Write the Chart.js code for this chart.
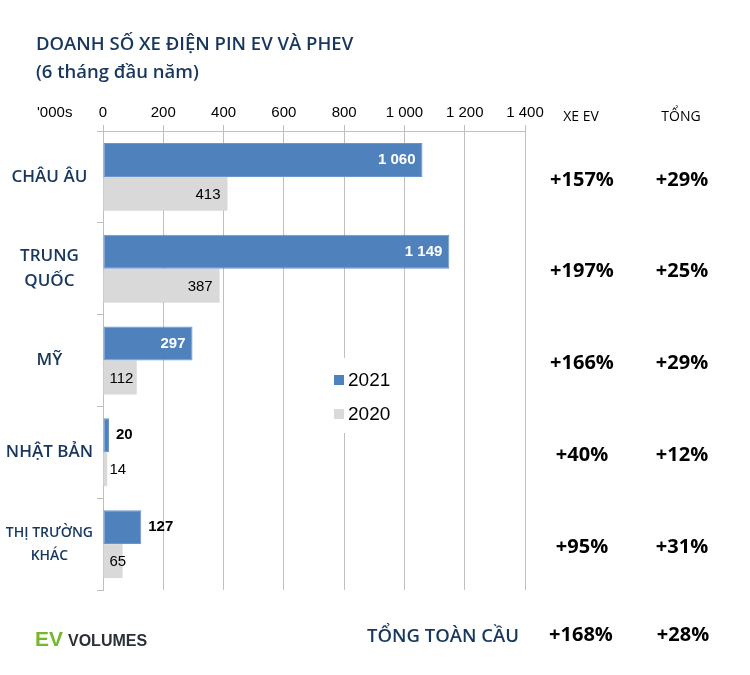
<!DOCTYPE html>
<html>
<head>
<meta charset="utf-8">
<script src="https://cdn.jsdelivr.net/npm/chart.js@4"></script>
<style>
  body { margin: 0; background: #fff; }
  #wrap { width: 750px; height: 675px; }
</style>
</head>
<body>
<div id="wrap"><canvas id="evChart" width="750" height="675"></canvas></div>
<script>
// data
const regions = ['CHÂU ÂU', ['TRUNG', 'QUỐC'], 'MỸ', 'NHẬT BẢN', ['THỊ TRƯỜNG', 'KHÁC']];
const sales2021 = [1060, 1149, 297, 20, 127];
const sales2020 = [413, 387, 112, 14, 65];
const evGrowth = ['+157%', '+197%', '+166%', '+40%', '+95%'];
const totalGrowth = ['+29%', '+25%', '+29%', '+12%', '+31%'];
const globalEv = '+168%';
const globalTotal = '+28%';
const xTicks = [0, 200, 400, 600, 800, 1000, 1200, 1400];

const NAVY = '#17375e';
const BLUE = '#4f81bd';
const GREY = '#d9d9d9';

function fmt(v) {
    return String(v).replace(/\B(?=(\d{3})+(?!\d))/g, ' ');
}

// value labels on the bars
const barLabels = {
    id: 'barLabels',
    afterDatasetsDraw(chart) {
        const ctx = chart.ctx;
        ctx.save();
        ctx.textBaseline = 'middle';
        chart.data.datasets.forEach((ds, di) => {
            chart.getDatasetMeta(di).data.forEach((bar, i) => {
                const txt = fmt(ds.data[i]);
                const w = bar.x - bar.base;
                if (di === 0) {
                    ctx.font = 'bold 15px "Liberation Sans", Arial';
                    if (w > 60) {
                        ctx.fillStyle = '#fff';
                        ctx.textAlign = 'right';
                        ctx.fillText(txt, bar.x - 7, bar.y);
                    } else {
                        ctx.fillStyle = '#000';
                        ctx.textAlign = 'left';
                        ctx.fillText(txt, bar.x + 7, bar.y);
                    }
                } else {
                    ctx.font = '15px "Liberation Sans", Arial';
                    ctx.fillStyle = '#000';
                    if (w > 45) {
                        ctx.textAlign = 'right';
                        ctx.fillText(txt, bar.x - 7, bar.y + 1);
                    } else {
                        ctx.textAlign = 'left';
                        ctx.fillText(txt, bar.base + 6, bar.y + 1);
                    }
                }
            });
        });
        ctx.restore();
    }
};

// title, unit, growth columns, legend, logo
const extras = {
    id: 'extras',
    afterDraw(chart) {
        const ctx = chart.ctx;
        const y = chart.scales.y;
        const area = chart.chartArea;
        ctx.save();
        ctx.textBaseline = 'middle';

        ctx.fillStyle = NAVY;
        ctx.textAlign = 'left';
        ctx.font = '600 18.5px "Open Sans"';
        ctx.fillText('DOANH SỐ XE ĐIỆN PIN EV VÀ PHEV', 36, 45);
        ctx.fillText('(6 tháng đầu năm)', 36, 73);

        ctx.fillStyle = '#000';
        ctx.font = '15px "Liberation Sans", Arial';
        ctx.fillText("'000s", 37, 113);

        ctx.textAlign = 'center';
        ctx.font = '14px "Open Sans"';
        ctx.fillText('XE EV', 581, 117);
        ctx.fillText('TỔNG', 681, 117);

        ctx.font = 'bold 20px "Open Sans"';
        evGrowth.forEach((g, i) => {
            const py = y.getPixelForValue(i) + 3;
            ctx.fillText(g, 582, py);
            ctx.fillText(totalGrowth[i], 682, py);
        });
        const ty = area.bottom + 45;
        ctx.fillText(globalEv, 581, ty);
        ctx.fillText(globalTotal, 683, ty);
        ctx.fillStyle = NAVY;
        ctx.font = '600 18.5px "Open Sans"';
        ctx.fillText('TỔNG TOÀN CẦU', 443, ty + 2);

        // legend
        const lx = 326, ly = 380;
        ctx.fillStyle = '#fff';
        ctx.fillRect(lx, ly - 22, 75, 75);
        chart.data.datasets.forEach((ds, i) => {
            const yy = ly + i * 34;
            ctx.fillStyle = ds.backgroundColor;
            ctx.fillRect(lx + 8, yy - 5, 10, 10);
            ctx.fillStyle = '#000';
            ctx.textAlign = 'left';
            ctx.font = '19px "Liberation Sans", Arial';
            ctx.fillText(ds.label, lx + 22, yy + 1);
        });

        // logo
        ctx.textAlign = 'left';
        ctx.fillStyle = '#77b82a';
        ctx.font = 'bold 21px "Liberation Sans", Arial';
        ctx.fillText('EV', 35, 640);
        ctx.fillStyle = '#2b2f36';
        ctx.font = 'bold 16px "Liberation Sans", Arial';
        ctx.fillText('VOLUMES', 68, 642);
        ctx.restore();
    }
};

const ctxEv = document.getElementById('evChart').getContext('2d');
new Chart(ctxEv, {
    type: 'bar',
    data: {
        labels: regions,
        datasets: [{
            label: '2021',
            data: sales2021,
            backgroundColor: BLUE,
            borderColor: '#6a96cc',
            borderWidth: 1,
            borderSkipped: false
        }, {
            label: '2020',
            data: sales2020,
            backgroundColor: GREY,
            borderWidth: 0
        }]
    },
    options: {
        responsive: false,
        animation: false,
        indexAxis: 'y',
        categoryPercentage: 0.74,
        barPercentage: 1,
        layout: {
            padding: { top: 95, right: 225, bottom: 85, left: 0 }
        },
        scales: {
            x: {
                position: 'top',
                min: 0,
                max: 1400,
                afterBuildTicks: (scale) => { scale.ticks = xTicks.map(v => ({ value: v })); },
                afterFit: (scale) => { scale.height = 36; },
                ticks: {
                    callback: (v) => fmt(v),
                    color: '#000',
                    font: { family: '"Liberation Sans", Arial', size: 15 },
                    padding: 3,
                    maxRotation: 0
                },
                grid: { color: '#bfbfbf', tickLength: 6 },
                border: { color: '#bfbfbf' }
            },
            y: {
                afterFit: (scale) => { scale.width = 103; },
                ticks: {
                    crossAlign: 'center',
                    color: NAVY,
                    padding: 4,
                    font: (c) => c.index === 4
                        ? { family: '"Open Sans"', size: 14, weight: '600', lineHeight: 1.65 }
                        : { family: '"Open Sans"', size: 17, weight: '600', lineHeight: 1.5 }
                },
                grid: { drawOnChartArea: false, color: '#bfbfbf', tickLength: 6 },
                border: { color: '#bfbfbf' }
            }
        },
        plugins: {
            legend: { display: false },
            tooltip: { enabled: false }
        }
    },
    plugins: [barLabels, extras]
});
</script>
</body>
</html>
